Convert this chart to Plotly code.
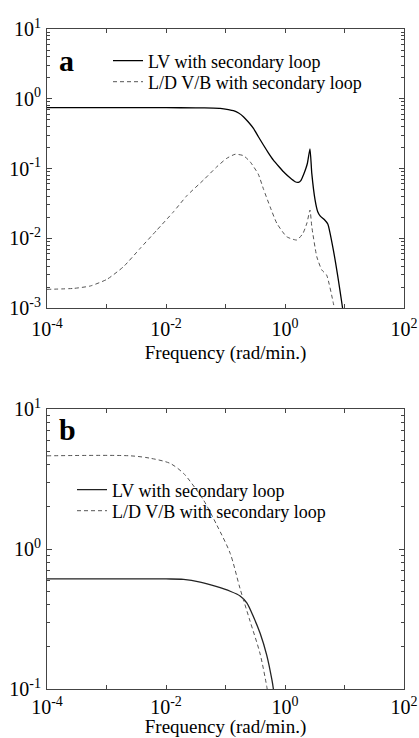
import plotly.graph_objects as go

# ---- data ----
freq_a_lv = [1e-4, 1e-2, 0.0316, 0.0631, 0.0813, 0.112, 0.136, 0.166, 0.200, 0.240, 0.295, 0.355,
             0.434, 0.525, 0.638, 0.794, 1.0, 1.20, 1.48, 1.68, 1.86, 2.04, 2.24, 2.38, 2.63, 2.82,
             3.20, 3.55, 3.89, 4.57, 5.24, 6.50, 9.20, 9.44]
mag_a_lv = [0.745, 0.745, 0.741, 0.736, 0.730, 0.700, 0.675, 0.624, 0.553, 0.468, 0.377, 0.288,
            0.217, 0.168, 0.132, 0.106, 0.0853, 0.0741, 0.0646, 0.0634, 0.0676, 0.0807, 0.100, 0.119,
            0.191, 0.0851, 0.0355, 0.0240, 0.0209, 0.0186, 0.0160, 0.00676, 0.00105, 0.00089]

freq_a_ld = [1e-4, 2.82e-4, 5.37e-4, 1.02e-3, 1.93e-3, 3.69e-3, 7.03e-3, 0.0134, 0.0224, 0.0427,
             0.0716, 0.105, 0.145, 0.200, 0.259, 0.355, 0.437, 0.562, 0.728, 1.07, 1.58, 2.00, 2.34,
             2.63, 2.82, 3.42, 4.15, 5.01, 6.50, 6.92]
mag_a_ld = [1.85e-3, 1.91e-3, 2.07e-3, 2.58e-3, 3.91e-3, 7.18e-3, 0.0131, 0.0240, 0.0407, 0.0684,
            0.106, 0.140, 0.160, 0.153, 0.125, 0.0832, 0.0501, 0.0282, 0.0164, 0.0105, 0.00944,
            0.0117, 0.0166, 0.0254, 0.0147, 0.00545, 0.00351, 0.00297, 0.00117, 0.00089]

freq_b_lv = [1e-4, 0.01, 0.0197, 0.0375, 0.0716, 0.120, 0.176, 0.228, 0.295, 0.382, 0.494, 0.603,
             0.638, 0.646]
mag_b_lv = [0.611, 0.611, 0.607, 0.581, 0.538, 0.499, 0.462, 0.412, 0.328, 0.250, 0.174, 0.116,
            0.100, 0.0955]

freq_b_ld = [1e-4, 2.51e-3, 5.43e-3, 0.0117, 0.0197, 0.0316, 0.0427, 0.0716, 0.120, 0.176, 0.259,
             0.382, 0.494, 0.513]
mag_b_ld = [4.63, 4.63, 4.45, 4.09, 3.47, 2.69, 2.24, 1.48, 0.93, 0.52, 0.305, 0.178, 0.104,
            0.0933]

series_names = ["LV with secondary loop", "L/D V/B with secondary loop"]
x_labeled = [1e-4, 1e-2, 1e0, 1e2]
x_ticktext = ["10<sup>-4</sup>", "10<sup>-2</sup>", "10<sup>0</sup>", "10<sup>2</sup>"]
x_unlabeled = [1e-3, 1e-1, 1e1]
ya_decades = [1e-3, 1e-2, 1e-1, 1e0, 1e1]
ya_ticktext = ["10<sup>-3</sup>", "10<sup>-2</sup>", "10<sup>-1</sup>", "10<sup>0</sup>", "10<sup>1</sup>"]
yb_decades = [1e-1, 1e0, 1e1]
yb_ticktext = ["10<sup>-1</sup>", "10<sup>0</sup>", "10<sup>1</sup>"]
x_title = "Frequency (rad/min.)"

FONT = "Liberation Serif, Times New Roman, serif"
AX = "#444"


def minor_vals(decs):
    out = []
    for d in decs[:-1]:
        for m in range(2, 10):
            out.append(m * d)
    return out


fig = go.Figure()
solid = dict(color="black", width=1.3, shape="spline", smoothing=0.5)
dashed = dict(color="#555", width=1, dash="4px,3px", shape="spline", smoothing=0.5)
solid_b = dict(color="#222", width=1.3, shape="spline", smoothing=0.8)
dashed_b = dict(color="#555", width=1, dash="4px,3px", shape="spline", smoothing=0.8)

fig.add_trace(go.Scatter(x=freq_a_lv, y=mag_a_lv, mode="lines", line=solid, name=series_names[0],
                         xaxis="x", yaxis="y", legend="legend"))
fig.add_trace(go.Scatter(x=freq_a_ld, y=mag_a_ld, mode="lines", line=dashed, name=series_names[1],
                         xaxis="x", yaxis="y", legend="legend2"))
fig.add_trace(go.Scatter(x=freq_b_lv, y=mag_b_lv, mode="lines", line=solid_b,
                         name=series_names[0], xaxis="x2", yaxis="y2", legend="legend3"))
fig.add_trace(go.Scatter(x=freq_b_ld, y=mag_b_ld, mode="lines", line=dashed_b, name=series_names[1],
                         xaxis="x2", yaxis="y2", legend="legend4"))

W, H = 419, 738
L, R, T, B = 47, 15, 29, 49
plot_w = W - L - R
plot_h = H - T - B


def frac(py):
    return (H - B - py) / plot_h


def x_axis(anchor, standoff, lab_standoff):
    return dict(type="log", range=[-4, 2], tickvals=x_labeled, ticktext=x_ticktext, anchor=anchor,
                domain=[0, 1], ticks="inside", ticklen=4, tickcolor=AX, showline=True,
                linecolor=AX, linewidth=1, mirror="allticks", showgrid=False, zeroline=False,
                minor=dict(tickvals=x_unlabeled, ticks="inside", ticklen=4, tickcolor=AX),
                tickangle=0, automargin=True, ticklabelstandoff=lab_standoff,
                tickfont=dict(family=FONT, size=20, color="black"),
                title=dict(text=x_title, font=dict(family=FONT, size=19, color="black"),
                           standoff=standoff))


common_y = dict(type="log", ticks="inside", ticklen=5, tickcolor=AX, showline=True, linecolor=AX,
                linewidth=1, mirror="allticks", showgrid=False, zeroline=False, automargin=False,
                ticklabelstandoff=1,
                tickfont=dict(family=FONT, size=20, color="black"))

fig.update_layout(
    width=W, height=H, margin=dict(l=L, r=R, t=T, b=B, autoexpand=False),
    paper_bgcolor="white", plot_bgcolor="white",
    font=dict(family=FONT, size=18, color="black"),
    xaxis=x_axis("y", 6, 3),
    yaxis=dict(domain=[frac(308), 1], anchor="x", range=[-3, 1], tickvals=ya_decades,
               ticktext=ya_ticktext,
               minor=dict(tickvals=minor_vals(ya_decades), ticks="inside", ticklen=3, tickcolor=AX),
               **common_y),
    xaxis2=x_axis("y2", 6, 0),
    yaxis2=dict(domain=[0, frac(409)], anchor="x2", range=[-1, 1], tickvals=yb_decades,
                ticktext=yb_ticktext,
                minor=dict(tickvals=minor_vals(yb_decades), ticks="inside", ticklen=3, tickcolor=AX),
                **common_y),
    showlegend=True,
)

leg_font = dict(family=FONT, size=18, color="black")


def leg(xpx, ypx):
    return dict(x=(xpx - L) / plot_w, y=frac(ypx), xref="paper", yref="paper",
                xanchor="left", yanchor="middle", bgcolor="rgba(0,0,0,0)",
                font=leg_font, borderwidth=0)


fig.update_layout(
    legend=leg(108, 61),
    legend2=leg(108, 82),
    legend3=leg(72, 490),
    legend4=leg(72, 511),
)

fig.add_annotation(text="<b>a</b>", xref="x domain", yref="y domain", x=(57 - L) / plot_w,
                   y=(308 - 60) / 279, xanchor="left", yanchor="middle", showarrow=False,
                   font=dict(family=FONT, size=30, color="black"))
fig.add_annotation(text="<b>b</b>", xref="x2 domain", yref="y2 domain", x=(57 - L) / plot_w,
                   y=(689 - 430) / 280, xanchor="left", yanchor="middle", showarrow=False,
                   font=dict(family=FONT, size=30, color="black"))

fig.write_html("out.html")
